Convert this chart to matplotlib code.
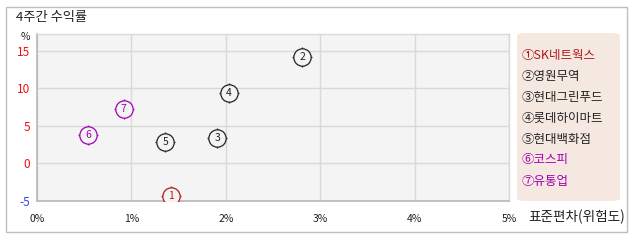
import matplotlib
matplotlib.use("Agg")
import matplotlib.pyplot as plt
from matplotlib.patches import Rectangle, FancyBboxPatch

plt.rcParams['font.family'] = ['Noto Sans CJK KR', 'DejaVu Sans']

# data
names = ['SK네트웍스', '영원무역', '현대그린푸드', '롯데하이마트', '현대백화점', '코스피', '유통업']
badges = ['①', '②', '③', '④', '⑤', '⑥', '⑦']
std_dev = [1.42, 2.81, 1.91, 2.03, 1.36, 0.54, 0.92]      # %
returns = [-4.3, 14.2, 3.4, 9.4, 2.9, 3.8, 7.2]           # %
x_ticks = [0, 1, 2, 3, 4, 5]
y_ticks = [-5, 0, 5, 10, 15]

red = '#b01818'
dark = '#222222'
purple = '#a000b0'
colors = [red, dark, dark, dark, dark, purple, purple]

W, H = 638, 242
fig = plt.figure(figsize=(W / 100, H / 100), dpi=100)

def fx(px):
    return px / W

def fy(py):
    return 1 - py / H

# outer frame
fig.patches.append(Rectangle((fx(6), fy(232)), fx(621), (232 - 7) / H,
                             transform=fig.transFigure, fill=False,
                             edgecolor='#bdbdbd', linewidth=1))

fig.text(fx(16), fy(17), '4주간 수익률', fontsize=9.5, color='#222222',
         ha='left', va='center')
fig.text(fx(25), fy(37), '%', fontsize=7.5, color='#222222', ha='center', va='center')

ax = fig.add_axes([fx(37), fy(201), (509 - 37) / W, (201 - 34) / H])
ax.set_facecolor('#f4f4f4')
ax.set_xlim(0, 5)
ax.set_ylim(-5, 17.2)
ax.set_xticks(x_ticks)
ax.set_yticks(y_ticks)
ax.set_xticklabels([f'{t}%' for t in x_ticks], fontsize=7.5, color='#222222')
ax.set_yticklabels([str(t) for t in y_ticks], fontsize=8.5)
for lbl, t in zip(ax.get_yticklabels(), y_ticks):
    lbl.set_color('#3344ee' if t < 0 else '#ee1111')
ax.tick_params(length=0, pad=5)
ax.tick_params(axis='x', pad=9)
ax.grid(True, color='#d9d9d9', linewidth=1)
ax.set_axisbelow(True)
for side, sp in ax.spines.items():
    sp.set_color('#b8b8b8' if side in ('left', 'bottom') else '#d9d9d9')
    sp.set_linewidth(1.2 if side in ('left', 'bottom') else 1)

for i in range(len(names)):
    ax.plot(std_dev[i], returns[i], marker='+', markersize=15, color=colors[i],
            markeredgewidth=0.9, zorder=3)
    ax.plot(std_dev[i], returns[i], marker='o', markersize=12.5,
            markerfacecolor='#f4f4f4', markeredgecolor=colors[i],
            markeredgewidth=0.9, zorder=4)
    ax.text(std_dev[i], returns[i], str(i + 1), fontsize=7.5, color=colors[i],
            ha='center', va='center', zorder=5)

fig.text(fx(528), fy(217), '표준편차(위험도)', fontsize=9.8, color='#222222',
         ha='left', va='center')

# legend panel
fig.patches.append(FancyBboxPatch((fx(517), fy(201)), fx(103), (201 - 33) / H,
                                  boxstyle='round,pad=0,rounding_size=0.012',
                                  transform=fig.transFigure,
                                  facecolor='#f5e8e1', edgecolor='none'))
for i in range(len(names)):
    fig.text(fx(522), fy(55 + i * 21), f'{badges[i]}{names[i]}', fontsize=9,
             color=colors[i], ha='left', va='center')

fig.savefig('out.png', dpi=100, facecolor='white')
